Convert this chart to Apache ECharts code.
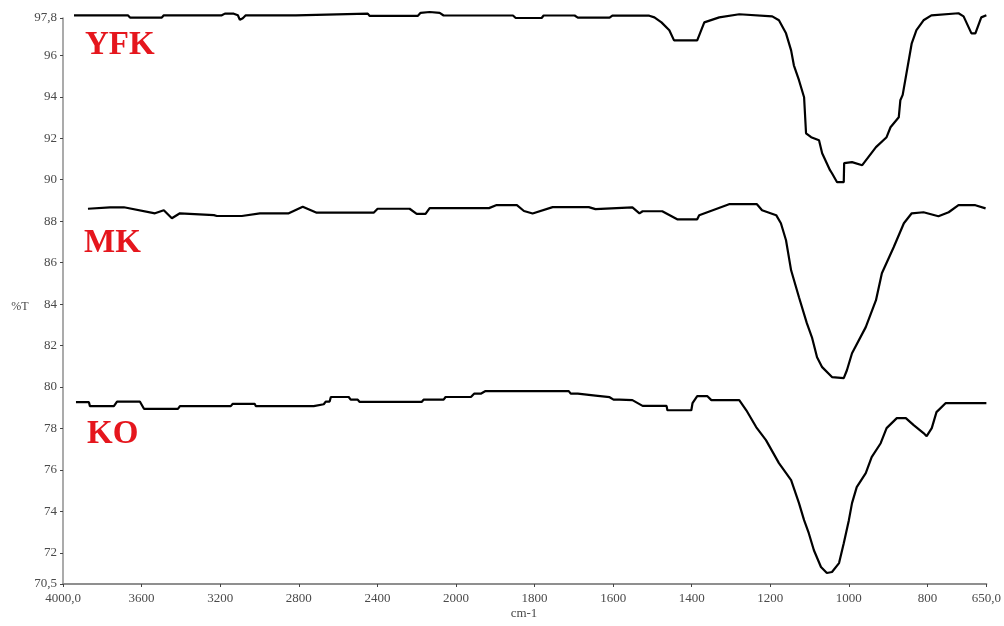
<!DOCTYPE html>
<html>
<head>
<meta charset="utf-8">
<title>FTIR YFK MK KO</title>
<script src="https://cdn.jsdelivr.net/npm/echarts@6/dist/echarts.min.js"></script>
<style>
  html, body { margin: 0; padding: 0; background: #fff; }
  #chart { width: 1004px; height: 626px; }
</style>
</head>
<body>
<div id="chart"></div>
<script>
// 波数范围 (cm-1)，2000 处刻度比例改变
const X_MAX = 4000;
const X_BREAK = 2000;
const X_MIN = 650;
const Y_MIN = 70.5;
const Y_MAX = 97.8;

// 刻度
const xTicksHigh = [4000, 3600, 3200, 2800, 2400, 2000];
const xTicksLow = [1800, 1600, 1400, 1200, 1000, 800, 650];
const yTicks = [70.5, 72, 74, 76, 78, 80, 82, 84, 86, 88, 90, 92, 94, 96, 97.8];

// [波数, %T]
const yfk = [
  [3944, 97.93], [3670, 97.93], [3659, 97.82], [3497, 97.82], [3487, 97.93], [3192, 97.93],
  [3176, 98.01], [3131, 98.01], [3110, 97.93], [3100, 97.71], [3085, 97.79], [3070, 97.93],
  [2815, 97.93], [2805, 98.01], [2449, 98.01], [2439, 97.90], [2195, 97.90], [2180, 98.05],
  [2134, 98.09], [2083, 98.05], [2063, 97.92], [2000, 97.92], [1855, 97.92], [1848, 97.80],
  [1782, 97.80], [1777, 97.92], [1698, 97.92], [1690, 97.82], [1609, 97.82], [1602, 97.92],
  [1508, 97.91], [1495, 97.83], [1477, 97.59], [1457, 97.21], [1445, 96.72], [1386, 96.72],
  [1378, 97.11], [1368, 97.59], [1330, 97.83], [1279, 97.98], [1195, 97.88], [1178, 97.69],
  [1160, 97.06], [1147, 96.24], [1140, 95.52], [1127, 94.80], [1114, 93.98], [1109, 92.24],
  [1096, 92.05], [1076, 91.90], [1068, 91.28], [1048, 90.46], [1043, 90.31], [1030, 89.88],
  [1013, 89.88], [1012, 90.80], [992, 90.85], [966, 90.70], [931, 91.57], [904, 92.05],
  [894, 92.53], [873, 93.01], [869, 93.83], [863, 94.09], [840, 96.58], [828, 97.21],
  [810, 97.69], [790, 97.93], [721, 98.03], [708, 97.88], [688, 97.06], [678, 97.06],
  [663, 97.83], [650, 97.93]
];

const mk = [
  [3873, 88.60], [3761, 88.67], [3690, 88.67], [3532, 88.38], [3487, 88.53], [3446, 88.14],
  [3405, 88.38], [3232, 88.29], [3217, 88.25], [3090, 88.25], [2998, 88.38], [2851, 88.38],
  [2780, 88.70], [2709, 88.41], [2419, 88.41], [2399, 88.60], [2236, 88.60], [2200, 88.35],
  [2155, 88.35], [2134, 88.63], [2000, 88.63], [1916, 88.63], [1898, 88.77], [1845, 88.77],
  [1827, 88.49], [1805, 88.37], [1754, 88.68], [1662, 88.68], [1645, 88.58], [1551, 88.67],
  [1533, 88.38], [1525, 88.48], [1475, 88.48], [1437, 88.09], [1386, 88.09], [1381, 88.29],
  [1305, 88.82], [1234, 88.82], [1221, 88.53], [1185, 88.29], [1173, 87.90], [1160, 87.08],
  [1147, 85.63], [1127, 84.33], [1107, 83.08], [1094, 82.40], [1081, 81.44], [1068, 80.96],
  [1043, 80.48], [1013, 80.43], [1005, 80.81], [992, 81.63], [957, 82.89], [931, 84.19],
  [916, 85.49], [886, 86.74], [860, 87.90], [840, 88.38], [810, 88.43], [772, 88.24],
  [746, 88.43], [721, 88.77], [678, 88.77], [652, 88.62]
];

const ko = [
  [3934, 79.27], [3868, 79.27], [3863, 79.08], [3741, 79.08], [3725, 79.30], [3609, 79.30],
  [3588, 78.95], [3415, 78.95], [3405, 79.08], [3146, 79.08], [3136, 79.19], [3024, 79.19],
  [3019, 79.08], [2724, 79.08], [2719, 79.17], [2673, 79.17], [2663, 79.30], [2643, 79.30],
  [2637, 79.52], [2546, 79.52], [2536, 79.39], [2500, 79.39], [2490, 79.28], [2175, 79.28],
  [2165, 79.39], [2063, 79.39], [2053, 79.52], [2000, 79.52], [1962, 79.52], [1954, 79.68],
  [1937, 79.68], [1926, 79.80], [1713, 79.80], [1708, 79.68], [1690, 79.68], [1685, 79.59],
  [1645, 79.59], [1642, 79.51], [1609, 79.51], [1599, 79.39], [1584, 79.39], [1551, 79.37],
  [1525, 79.09], [1464, 79.09], [1462, 78.88], [1401, 78.88], [1398, 79.22], [1386, 79.56],
  [1360, 79.56], [1350, 79.37], [1279, 79.37], [1261, 78.88], [1236, 78.07], [1211, 77.44],
  [1178, 76.33], [1147, 75.51], [1127, 74.40], [1114, 73.58], [1102, 72.95], [1089, 72.13],
  [1071, 71.32], [1056, 71.03], [1043, 71.08], [1025, 71.51], [1013, 72.47], [1000, 73.58],
  [992, 74.40], [980, 75.17], [957, 75.85], [942, 76.62], [919, 77.29], [904, 78.02],
  [878, 78.50], [855, 78.50], [835, 78.16], [810, 77.78], [802, 77.63], [789, 78.02],
  [777, 78.79], [754, 79.22], [670, 79.22], [650, 79.22]
];

const samples = [
  { name: 'YFK', data: yfk },
  { name: 'MK', data: mk },
  { name: 'KO', data: ko }
];

const FONT = '"Liberation Serif", "DejaVu Serif", serif';
const LABEL_COLOR = '#4a4a4a';

// 端点标签带一位小数，逗号作小数点
function fmtEnd(v, lo, hi) {
  if (v === lo || v === hi) return v.toFixed(1).replace('.', ',');
  return String(v);
}

function xAxisCfg(gridIndex, min, max, ticks) {
  return {
    type: 'value',
    gridIndex: gridIndex,
    inverse: true,
    min: min,
    max: max,
    splitLine: { show: false },
    axisLine: { lineStyle: { color: '#8f8f8f', width: 2 } },
    axisTick: { customValues: ticks, length: 3, lineStyle: { color: '#444' } },
    axisLabel: {
      customValues: ticks,
      margin: 8,
      color: LABEL_COLOR,
      fontFamily: FONT,
      fontSize: 13,
      formatter: v => fmtEnd(v, X_MIN, X_MAX)
    }
  };
}

const chart = echarts.init(document.getElementById('chart'), null, { renderer: 'canvas' });

const series = [];
samples.forEach(s => {
  series.push({
    name: s.name,
    type: 'line',
    xAxisIndex: 0,
    yAxisIndex: 0,
    data: s.data.filter(p => p[0] >= X_BREAK),
    showSymbol: false,
    clip: false,
    lineStyle: { color: '#000', width: 2.2 }
  });
  series.push({
    name: s.name,
    type: 'line',
    xAxisIndex: 1,
    yAxisIndex: 1,
    data: s.data.filter(p => p[0] <= X_BREAK),
    showSymbol: false,
    clip: false,
    lineStyle: { color: '#000', width: 2.2 }
  });
});

const labelFont = 'bold 33px "Liberation Serif", "DejaVu Serif", serif';

chart.setOption({
  animation: false,
  backgroundColor: '#fff',
  grid: [
    { left: 63, top: 18, width: 393, bottom: 42 },
    { left: 456, top: 18, width: 532, bottom: 42 }
  ],
  xAxis: [
    xAxisCfg(0, X_BREAK, X_MAX, xTicksHigh),
    xAxisCfg(1, X_MIN, X_BREAK, xTicksLow)
  ],
  yAxis: [
    {
      type: 'value',
      gridIndex: 0,
      min: Y_MIN,
      max: Y_MAX,
      splitLine: { show: false },
      axisLine: { show: true, lineStyle: { color: '#8f8f8f', width: 1.5 } },
      axisTick: { show: true, customValues: yTicks, length: 3, lineStyle: { color: '#444' } },
      axisLabel: {
        customValues: yTicks,
        margin: 6,
        color: LABEL_COLOR,
        fontFamily: FONT,
        fontSize: 13,
        formatter: v => fmtEnd(v, Y_MIN, Y_MAX)
      }
    },
    {
      type: 'value',
      gridIndex: 1,
      min: Y_MIN,
      max: Y_MAX,
      show: false
    }
  ],
  graphic: [
    { type: 'text', style: { text: 'YFK', x: 85, y: 45, verticalAlign: 'middle', font: labelFont, fill: '#e5161d' } },
    { type: 'text', style: { text: 'MK', x: 84, y: 243, verticalAlign: 'middle', font: labelFont, fill: '#e5161d' } },
    { type: 'text', style: { text: 'KO', x: 87, y: 434, verticalAlign: 'middle', font: labelFont, fill: '#e5161d' } },
    { type: 'text', style: { text: 'cm-1', x: 524, y: 614, align: 'center', verticalAlign: 'middle', font: '13px ' + FONT, fill: LABEL_COLOR } },
    { type: 'text', style: { text: '%T', x: 20, y: 307, align: 'center', verticalAlign: 'middle', font: '12px ' + FONT, fill: LABEL_COLOR } }
  ],
  series: series
});
</script>
</body>
</html>
